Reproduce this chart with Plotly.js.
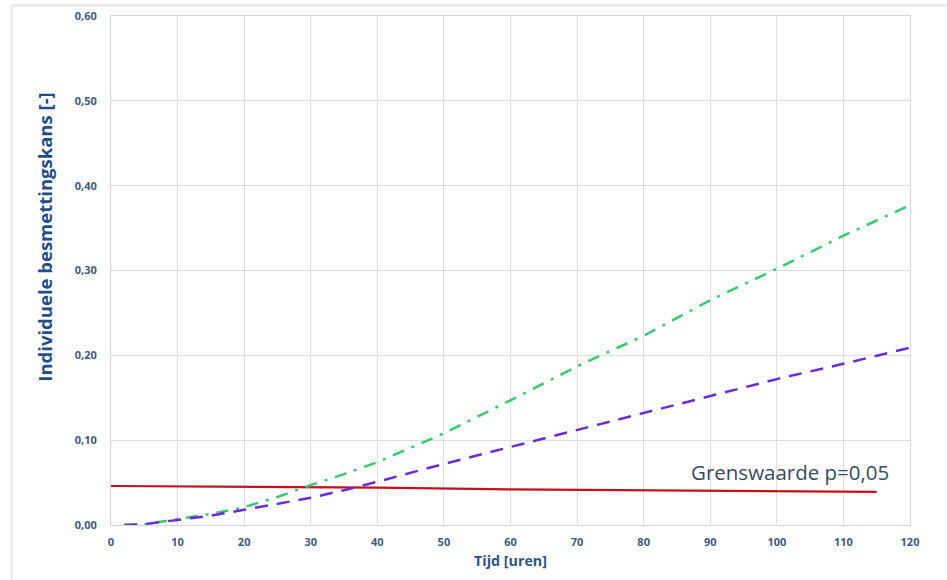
<!DOCTYPE html>
<html>
<head>
<meta charset="utf-8">
<script src="https://cdn.plot.ly/plotly-3.0.1.min.js"></script>
<style>html,body{margin:0;padding:0;background:#fff;}#chart{width:947px;height:580px;}</style>
</head>
<body>
<div id="chart"></div>
<script>
// Data
const tijdGroen = [2, 5, 10, 15, 20, 25, 30, 35, 40, 50, 60, 70, 80, 90, 100, 110, 120];
const kansGroen = [0.000, 0.001, 0.007, 0.013, 0.021, 0.033, 0.047, 0.060, 0.074, 0.108, 0.147, 0.187, 0.223, 0.265, 0.302, 0.341, 0.377];

const tijdPaars = [2, 5, 10, 15, 20, 25, 30, 35, 40, 50, 60, 70, 80, 90, 100, 110, 120];
const kansPaars = [0.000, 0.001, 0.006, 0.011, 0.018, 0.025, 0.032, 0.041, 0.051, 0.072, 0.092, 0.112, 0.132, 0.152, 0.172, 0.190, 0.209];

const tijdRood = [0, 20, 40, 60, 80, 100, 115];
const kansRood = [0.046, 0.045, 0.044, 0.042, 0.041, 0.040, 0.039];

const xTicks = [0, 10, 20, 30, 40, 50, 60, 70, 80, 90, 100, 110, 120];
const yTicks = [0, 0.1, 0.2, 0.3, 0.4, 0.5, 0.6];

const labelText = "Grenswaarde p=0,05";
const labelX = 102;
const labelY = 0.0625;
const yTitleText = "<b>Individuele besmettingskans [-]</b>";
const xTitleText = "<b>Tijd [uren]</b>";

const traces = [
  {x: tijdRood, y: kansRood, mode: 'lines', line: {color: '#c0141a', width: 2.2}, name: 'Grenswaarde'},
  {x: tijdGroen, y: kansGroen, mode: 'lines', line: {color: '#33cc70', width: 2.5, dash: '12px,8px,3px,8px'}, name: 'Groen'},
  {x: tijdPaars, y: kansPaars, mode: 'lines', line: {color: '#6a2bd9', width: 2.5, dash: '13px,9px'}, name: 'Paars'}
];

const layout = {
  width: 947, height: 580,
  margin: {l: 111, r: 37, t: 16, b: 55},
  paper_bgcolor: '#ffffff', plot_bgcolor: '#ffffff',
  showlegend: false,
  separators: ',.',
  font: {family: '"Open Sans", "Noto Sans", sans-serif', color: '#44546a'},
  xaxis: {
    range: [0, 120], tickvals: xTicks, ticktext: xTicks.map(String),
    showgrid: true, gridcolor: '#dedede', gridwidth: 1,
    showline: true, linecolor: '#d4d4d4', linewidth: 1, mirror: true,
    zeroline: false, ticks: '', ticklen: 0, ticklabelstandoff: 7,
    tickfont: {size: 11, color: '#3f5a7a', family: '"Open Sans", sans-serif', weight: 'bold'}
  },
  yaxis: {
    range: [0, 0.6], tickvals: yTicks, tickformat: '.2f',
    showgrid: true, gridcolor: '#dedede', gridwidth: 1,
    showline: true, linecolor: '#d4d4d4', linewidth: 1, mirror: true,
    zeroline: false, ticks: '', ticklen: 0, ticklabelstandoff: 11,
    tickfont: {size: 11, color: '#3f5a7a', family: '"Open Sans", sans-serif', weight: 'bold'}
  },
  annotations: [
    {x: labelX, y: labelY, xref: 'x', yref: 'y', text: labelText, showarrow: false,
     font: {size: 20.5, color: '#3b4a5e', family: '"Open Sans", sans-serif'}},
    {x: -0.0835, y: 0.565, xref: 'paper', yref: 'paper', text: yTitleText, showarrow: false,
     textangle: -90, xanchor: 'center', yanchor: 'middle',
     font: {size: 18.5, color: '#1f4e89', family: '"Open Sans", sans-serif'}},
    {x: 0.5, y: -0.0705, xref: 'paper', yref: 'paper', text: xTitleText, showarrow: false,
     xanchor: 'center', yanchor: 'middle',
     font: {size: 14.3, color: '#2f5480', family: '"Open Sans", sans-serif'}}
  ],
  shapes: [
    {type: 'line', xref: 'paper', yref: 'paper', x0: -0.1245, x1: 1.05, y0: 1.0205, y1: 1.0205, line: {color: '#e6e6e6', width: 2}},
    {type: 'line', xref: 'paper', yref: 'paper', x0: -0.1245, x1: -0.1245, y0: -0.2, y1: 1.0205, line: {color: '#e6e6e6', width: 2}}
  ]
};

Plotly.newPlot('chart', traces, layout, {displayModeBar: false, staticPlot: true});
</script>
</body>
</html>
